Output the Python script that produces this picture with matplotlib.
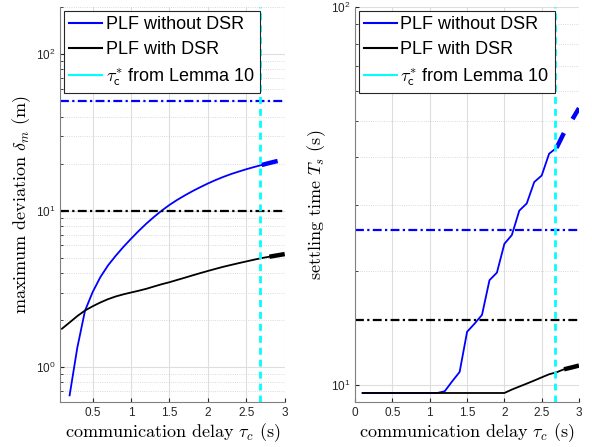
import matplotlib
matplotlib.use('Agg')
import matplotlib.pyplot as plt
from matplotlib.lines import Line2D
from matplotlib.ticker import NullFormatter, LogLocator

plt.rcParams['font.family'] = ['Liberation Sans', 'DejaVu Sans']
plt.rcParams['mathtext.fontset'] = 'cm'

# delay grid (s)
tau = [0.1, 0.2, 0.3, 0.4, 0.5, 0.6, 0.7, 0.8, 0.9, 1.0,
       1.1, 1.2, 1.3, 1.4, 1.5, 1.6, 1.7, 1.8, 1.9, 2.0,
       2.1, 2.2, 2.3, 2.4, 2.5, 2.6, 2.7, 2.8, 2.9, 3.0]

# maximum deviation (m), blue one starts at 0.2
dev_no_dsr = [0.66, 1.33, 2.29, 3.02, 3.76, 4.47, 5.15, 5.87, 6.62,
              7.43, 8.28, 9.14, 10.02, 10.89, 11.72, 12.53, 13.34, 14.13, 14.93,
              15.70, 16.44, 17.14, 17.78, 18.41, 19.01, 19.59, 20.18, 20.75, 21.28]
dev_dsr = [1.76, 1.93, 2.12, 2.30, 2.45, 2.59, 2.72, 2.83, 2.92, 3.00,
           3.08, 3.17, 3.28, 3.39, 3.49, 3.61, 3.73, 3.86, 3.99, 4.12,
           4.25, 4.38, 4.50, 4.62, 4.74, 4.86, 4.98, 5.08, 5.18, 5.28]

# settling time (s)
ts_no_dsr = [9.5, 9.5, 9.5, 9.5, 9.5, 9.5, 9.5, 9.5, 9.5, 9.5,
             9.5, 9.6, 10.2, 10.8, 13.8, 14.5, 15.3, 18.9, 19.8, 23.6,
             24.9, 28.9, 30.2, 34.4, 35.8, 40.9, 42.4, 46.5, 50.0, 54.0]
ts_dsr = [9.5, 9.5, 9.5, 9.5, 9.5, 9.5, 9.5, 9.5, 9.5, 9.5,
          9.5, 9.5, 9.5, 9.5, 9.5, 9.5, 9.5, 9.5, 9.5, 9.5,
          9.7, 9.88, 10.06, 10.25, 10.45, 10.65, 10.78, 10.98, 11.1, 11.23]

dev_ref_no_dsr = 50
dev_ref_dsr = 10
ts_ref_no_dsr = 25.7
ts_ref_dsr = 14.85
tau_star = 2.68

tau_dev = tau[1:]

fig = plt.figure(figsize=(5.92, 4.47), dpi=100)
ax1 = fig.add_axes([0.102, 0.101, 0.379, 0.883])
ax2 = fig.add_axes([0.600, 0.101, 0.378, 0.883])

dashdot = (0, (4, 1.5, 1, 1.5))
thick = (0, (3.7, 3.7))


def split(x, y, x0):
    a = [(xi, yi) for xi, yi in zip(x, y) if xi <= x0 + 1e-9]
    b = [(xi, yi) for xi, yi in zip(x, y) if xi >= x0 - 1e-9]
    return list(zip(*a)), list(zip(*b))


def draw(ax, x1, y1, x2, y2, ref1, ref2):
    (ax_, ay_), (bx_, by_) = split(x1, y1, 2.7)
    ax.plot(ax_, ay_, color='b', lw=1.3)
    ax.plot(bx_, by_, color='b', lw=3.2, ls=thick, dash_capstyle='butt')
    (ax_, ay_), (bx_, by_) = split(x2, y2, 2.8)
    ax.plot(ax_, ay_, color='k', lw=1.3)
    ax.plot(bx_, by_, color='k', lw=3.2, ls=thick, dash_capstyle='butt')
    ax.axhline(ref1, color='b', lw=1.6, ls=dashdot)
    ax.axhline(ref2, color='k', lw=1.6, ls=dashdot)
    ax.axvline(tau_star, color='cyan', lw=2, ls=(0, (2.5, 1.8)))

    ax.set_yscale('log')
    ax.yaxis.set_minor_locator(LogLocator(base=10, subs=range(2, 10)))
    ax.yaxis.set_minor_formatter(NullFormatter())
    ax.grid(True, which='major', color='#dedede', lw=0.8)
    ax.grid(True, which='minor', axis='y', color='#cfcfcf', lw=0.6, ls=':')
    ax.set_axisbelow(True)
    for s in ['top', 'right']:
        ax.spines[s].set_visible(False)
    for s in ['left', 'bottom']:
        ax.spines[s].set_color('#808080')
    ax.tick_params(which='both', direction='in', labelsize=8.5,
                   colors='#262626', length=3)
    ax.tick_params(which='minor', length=2)
    ax.set_xlabel(r'communication delay $\tau_c$ (s)', fontname='cmr10',
                  fontsize=13, labelpad=2)
    handles = [Line2D([], [], color='b', lw=1.5),
               Line2D([], [], color='k', lw=1.5),
               Line2D([], [], color='cyan', lw=1.5)]
    labels = ['PLF without DSR', 'PLF with DSR',
              r'$\tau_{\mathsf{c}}^{*}$ from Lemma 10']
    leg = ax.legend(handles, labels, loc='upper left', fontsize=13,
                    fancybox=False, framealpha=1, edgecolor='#262626',
                    borderaxespad=0.2, handlelength=1.8, handletextpad=0.2,
                    borderpad=0.3, labelspacing=0.45)
    leg.get_frame().set_linewidth(0.8)


draw(ax1, tau_dev, dev_no_dsr, tau, dev_dsr, dev_ref_no_dsr, dev_ref_dsr)
ax1.set_xlim(0.08, 3)
ax1.set_ylim(0.6, 200)
ax1.set_xticks([0.5, 1, 1.5, 2, 2.5, 3])
ax1.set_xticklabels(['0.5', '1', '1.5', '2', '2.5', '3'])
ax1.set_ylabel(r'maximum deviation $\delta_m$ (m)', fontname='cmr10',
               fontsize=13, labelpad=2)

draw(ax2, tau, ts_no_dsr, tau, ts_dsr, ts_ref_no_dsr, ts_ref_dsr)
ax2.set_xlim(0, 3)
ax2.set_ylim(9, 100)
ax2.set_xticks([0, 0.5, 1, 1.5, 2, 2.5, 3])
ax2.set_xticklabels(['0', '0.5', '1', '1.5', '2', '2.5', '3'])
ax2.set_ylabel(r'settling time $T_s$ (s)', fontname='cmr10',
               fontsize=13, labelpad=2)

fig.savefig('out.png', dpi=100)
